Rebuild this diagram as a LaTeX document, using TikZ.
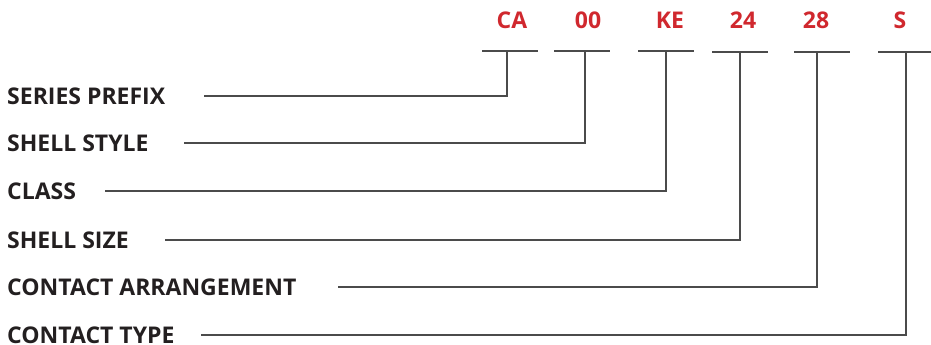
\documentclass[tikz,border=0pt]{standalone}
\usepackage{fontspec}
\setmainfont{Open Sans}
\usepackage{tikz}

\definecolor{codered}{RGB}{208,40,46}
\definecolor{labelblack}{RGB}{35,31,32}
\definecolor{leadgray}{RGB}{75,75,75}

\begin{document}
\begin{tikzpicture}[
    x=1pt,y=-1pt,
    label/.style={anchor=west, inner sep=0pt, text=labelblack, font=\fontsize{23}{26}\selectfont\bfseries},
    code/.style={inner sep=0pt, text=codered, font=\fontsize{23}{26}\selectfont\bfseries},
    lead/.style={leadgray, line width=1.3pt}
    ]
    \useasboundingbox (0, 0) rectangle (931, 345);
    % part number fields
    \node[code] (ca) at (512, 20) {CA};
    \node[code] (oo) at (588, 20) {00};
    \node[code] (ke) at (670, 20) {KE};
    \node[code] (ss) at (743, 20) {24};
    \node[code] (ar) at (816, 20) {28};
    \node[code] (ty) at (900, 20) {S};
    \coordinate (ca top) at (507, 51);
    \coordinate (oo top) at (585, 51);
    \coordinate (ke top) at (666, 51);
    \coordinate (ss top) at (740, 52);
    \coordinate (ar top) at (817, 52);
    \coordinate (ty top) at (906, 52);
    \draw[lead] ([xshift=-25]ca top) -- ([xshift=31]ca top);
    \draw[lead] ([xshift=-31]oo top) -- ([xshift=25]oo top);
    \draw[lead] ([xshift=-28]ke top) -- ([xshift=28]ke top);
    \draw[lead] ([xshift=-28]ss top) -- ([xshift=28]ss top);
    \draw[lead] ([xshift=-23]ar top) -- ([xshift=33]ar top);
    \draw[lead] ([xshift=-28]ty top) -- ([xshift=30]ty top);
    % descriptions
    \node[label] (prefix) at (7, 96) {SERIES PREFIX};
    \node[label] (style) at (7, 143) {SHELL STYLE};
    \node[label] (class) at (7, 191) {CLASS};
    \node[label] (size) at (7, 240) {SHELL SIZE};
    \node[label] (arrange) at (7, 287) {CONTACT ARRANGEMENT};
    \node[label] (type) at (7, 335) {CONTACT TYPE};
    \coordinate (prefix end) at (204, 96);
    \coordinate (style end) at (184, 143);
    \coordinate (class end) at (105, 191);
    \coordinate (size end) at (165, 240);
    \coordinate (arrange end) at (338, 287);
    \coordinate (type end) at (201, 335);
    % leaders
    \draw[lead] (prefix end) -| (ca top);
    \draw[lead] (style end) -| (oo top);
    \draw[lead] (class end) -| (ke top);
    \draw[lead] (size end) -| (ss top);
    \draw[lead] (arrange end) -| (ar top);
    \draw[lead] (type end) -| (ty top);
\end{tikzpicture}
\end{document}
